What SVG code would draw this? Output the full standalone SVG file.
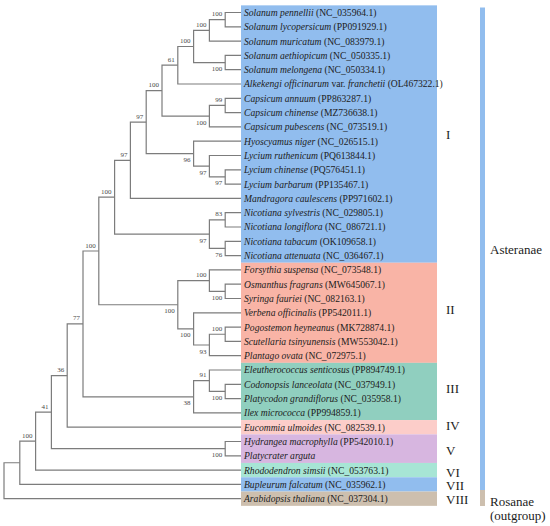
<svg xmlns="http://www.w3.org/2000/svg" width="550" height="526" viewBox="0 0 550 526">
<style>
.bg{fill:#ffffff}
.br{fill:none;stroke:#7c7c7c;stroke-width:1.2}
.sp{font-family:"Liberation Serif","Times New Roman",serif;font-size:9.6px;fill:#1c1c1c}
.it{font-style:italic}
.bs{font-family:"Liberation Serif","Times New Roman",serif;font-size:7px;fill:#4a4a4a;text-anchor:end}
.cl{font-family:"Liberation Serif","Times New Roman",serif;font-size:13px;fill:#1c1c1c}
.c1{fill:#91bdee}.c2{fill:#f9b4a6}.c3{fill:#90cfbf}.c4{fill:#fccdc9}.c5{fill:#d7b6e0}.c6{fill:#a7e5d5}.c7{fill:#91bdee}.c8{fill:#cdbfae}
</style>
<rect class="bg" x="0" y="0" width="550" height="526"/>
<g id="clade-bands">
<rect class="c1" x="241" y="5.35" width="196" height="257.4"/>
<rect class="c2" x="241" y="262.75" width="196" height="100.1"/>
<rect class="c3" x="241" y="362.85" width="196" height="57.2"/>
<rect class="c4" x="241" y="420.05" width="196" height="14.3"/>
<rect class="c5" x="241" y="434.35" width="196" height="28.6"/>
<rect class="c6" x="241" y="462.95" width="196" height="14.3"/>
<rect class="c7" x="241" y="477.25" width="196" height="14.3"/>
<rect class="c8" x="241" y="491.55" width="196" height="14.3"/>
</g>
<g id="connectors">
<path class="br" d="M19.8,462.75H4V498.7H241"/>
<path class="br" d="M35.6,441.1H19.8V484.4H241"/>
<path class="br" d="M51.4,412.1H35.6V470.1H241"/>
<path class="br" d="M67.2,375.55H51.4V448.65H225.2"/>
<path class="br" d="M83,323.9H67.2V427.2H241"/>
<path class="br" d="M98.8,251H83V396.8H193.6"/>
<path class="br" d="M114.6,197.2H98.8V304.75H177.8"/>
<path class="br" d="M130.4,160.3H114.6V234.15H209.4"/>
<path class="br" d="M146.2,122.2H130.4V198.4H241"/>
<path class="br" d="M162,90.7H146.2V153.7H193.6"/>
<path class="br" d="M177.8,65.2H162V116.2H209.4"/>
<path class="br" d="M193.6,46.5H177.8V84H241"/>
<path class="br" d="M209.4,30.4H193.6V62.55H225.2"/>
<path class="br" d="M225.2,19.65H209.4V41.1H241"/>
<path class="br" d="M241,12.5H225.2V26.8H241"/>
<path class="br" d="M241,55.4H225.2V69.7H241"/>
<path class="br" d="M225.2,105.45H209.4V126.9H241"/>
<path class="br" d="M241,98.3H225.2V112.6H241"/>
<path class="br" d="M241,141.2H193.6V166.2H209.4"/>
<path class="br" d="M241,155.5H209.4V176.95H225.2"/>
<path class="br" d="M241,169.8H225.2V184.1H241"/>
<path class="br" d="M225.2,219.85H209.4V248.45H225.2"/>
<path class="br" d="M241,212.7H225.2V227H241"/>
<path class="br" d="M241,241.3H225.2V255.6H241"/>
<path class="br" d="M209.4,280.6H177.8V328.9H193.6"/>
<path class="br" d="M241,269.9H209.4V291.35H225.2"/>
<path class="br" d="M241,284.2H225.2V298.5H241"/>
<path class="br" d="M241,312.8H193.6V344.98H209.4"/>
<path class="br" d="M225.2,334.25H209.4V355.7H241"/>
<path class="br" d="M241,327.1H225.2V341.4H241"/>
<path class="br" d="M209.4,380.7H193.6V412.9H241"/>
<path class="br" d="M241,370H209.4V391.45H225.2"/>
<path class="br" d="M241,384.3H225.2V398.6H241"/>
<path class="br" d="M241,441.5H225.2V455.8H241"/>
</g>
<g id="support-values">
<text class="bs" x="222.2" y="16.2">100</text>
<text class="bs" x="206.4" y="26.9">100</text>
<text class="bs" x="190.6" y="43">100</text>
<text class="bs" x="222.2" y="71.05">100</text>
<text class="bs" x="174.8" y="61.7">61</text>
<text class="bs" x="159" y="87.2">100</text>
<text class="bs" x="222.2" y="101.95">99</text>
<text class="bs" x="206.4" y="124.7">100</text>
<text class="bs" x="143.2" y="118.7">97</text>
<text class="bs" x="190.6" y="162.2">96</text>
<text class="bs" x="206.4" y="174.7">97</text>
<text class="bs" x="222.2" y="185.45">97</text>
<text class="bs" x="127.4" y="156.8">97</text>
<text class="bs" x="111.6" y="193.7">100</text>
<text class="bs" x="222.2" y="216.35">83</text>
<text class="bs" x="222.2" y="256.95">76</text>
<text class="bs" x="206.4" y="242.65">97</text>
<text class="bs" x="95.8" y="247.5">100</text>
<text class="bs" x="206.4" y="277.1">100</text>
<text class="bs" x="222.2" y="299.85">100</text>
<text class="bs" x="174.8" y="313.25">100</text>
<text class="bs" x="190.6" y="337.4">100</text>
<text class="bs" x="206.4" y="353.5">93</text>
<text class="bs" x="222.2" y="330.75">100</text>
<text class="bs" x="80" y="320.4">77</text>
<text class="bs" x="206.4" y="377.2">91</text>
<text class="bs" x="222.2" y="399.95">100</text>
<text class="bs" x="190.6" y="405.3">38</text>
<text class="bs" x="64.2" y="372.05">36</text>
<text class="bs" x="48.4" y="408.6">41</text>
<text class="bs" x="222.2" y="457.15">100</text>
<text class="bs" x="32.6" y="437.6">100</text>
</g>
<g id="leaf-01"><text class="sp" x="244" y="15.9"><tspan class="it">Solanum pennellii</tspan> (NC_035964.1)</text></g>
<g id="leaf-02"><text class="sp" x="244" y="30.2"><tspan class="it">Solanum lycopersicum</tspan> (PP091929.1)</text></g>
<g id="leaf-03"><text class="sp" x="244" y="44.5"><tspan class="it">Solanum muricatum</tspan> (NC_083979.1)</text></g>
<g id="leaf-04"><text class="sp" x="244" y="58.8"><tspan class="it">Solanum aethiopicum</tspan> (NC_050335.1)</text></g>
<g id="leaf-05"><text class="sp" x="244" y="73.1"><tspan class="it">Solanum melongena</tspan> (NC_050334.1)</text></g>
<g id="leaf-06"><text class="sp" x="244" y="87.4"><tspan class="it">Alkekengi officinarum</tspan> var. <tspan class="it">franchetii</tspan> (OL467322.1)</text></g>
<g id="leaf-07"><text class="sp" x="244" y="101.7"><tspan class="it">Capsicum annuum</tspan> (PP863287.1)</text></g>
<g id="leaf-08"><text class="sp" x="244" y="116"><tspan class="it">Capsicum chinense</tspan> (MZ736638.1)</text></g>
<g id="leaf-09"><text class="sp" x="244" y="130.3"><tspan class="it">Capsicum pubescens</tspan> (NC_073519.1)</text></g>
<g id="leaf-10"><text class="sp" x="244" y="144.6"><tspan class="it">Hyoscyamus niger</tspan> (NC_026515.1)</text></g>
<g id="leaf-11"><text class="sp" x="244" y="158.9"><tspan class="it">Lycium ruthenicum</tspan> (PQ613844.1)</text></g>
<g id="leaf-12"><text class="sp" x="244" y="173.2"><tspan class="it">Lycium chinense</tspan> (PQ576451.1)</text></g>
<g id="leaf-13"><text class="sp" x="244" y="187.5"><tspan class="it">Lycium barbarum</tspan> (PP135467.1)</text></g>
<g id="leaf-14"><text class="sp" x="244" y="201.8"><tspan class="it">Mandragora caulescens</tspan> (PP971602.1)</text></g>
<g id="leaf-15"><text class="sp" x="244" y="216.1"><tspan class="it">Nicotiana sylvestris</tspan> (NC_029805.1)</text></g>
<g id="leaf-16"><text class="sp" x="244" y="230.4"><tspan class="it">Nicotiana longiflora</tspan> (NC_086721.1)</text></g>
<g id="leaf-17"><text class="sp" x="244" y="244.7"><tspan class="it">Nicotiana tabacum</tspan> (OK109658.1)</text></g>
<g id="leaf-18"><text class="sp" x="244" y="259"><tspan class="it">Nicotiana attenuata</tspan> (NC_036467.1)</text></g>
<g id="leaf-19"><text class="sp" x="244" y="273.3"><tspan class="it">Forsythia suspensa</tspan> (NC_073548.1)</text></g>
<g id="leaf-20"><text class="sp" x="244" y="287.6"><tspan class="it">Osmanthus fragrans</tspan> (MW645067.1)</text></g>
<g id="leaf-21"><text class="sp" x="244" y="301.9"><tspan class="it">Syringa fauriei</tspan> (NC_082163.1)</text></g>
<g id="leaf-22"><text class="sp" x="244" y="316.2"><tspan class="it">Verbena officinalis</tspan> (PP542011.1)</text></g>
<g id="leaf-23"><text class="sp" x="244" y="330.5"><tspan class="it">Pogostemon heyneanus</tspan> (MK728874.1)</text></g>
<g id="leaf-24"><text class="sp" x="244" y="344.8"><tspan class="it">Scutellaria tsinyunensis</tspan> (MW553042.1)</text></g>
<g id="leaf-25"><text class="sp" x="244" y="359.1"><tspan class="it">Plantago ovata</tspan> (NC_072975.1)</text></g>
<g id="leaf-26"><text class="sp" x="244" y="373.4"><tspan class="it">Eleutherococcus senticosus</tspan> (PP894749.1)</text></g>
<g id="leaf-27"><text class="sp" x="244" y="387.7"><tspan class="it">Codonopsis lanceolata</tspan> (NC_037949.1)</text></g>
<g id="leaf-28"><text class="sp" x="244" y="402"><tspan class="it">Platycodon grandiflorus</tspan> (NC_035958.1)</text></g>
<g id="leaf-29"><text class="sp" x="244" y="416.3"><tspan class="it">Ilex micrococca</tspan> (PP994859.1)</text></g>
<g id="leaf-30"><text class="sp" x="244" y="430.6"><tspan class="it">Eucommia ulmoides</tspan> (NC_082539.1)</text></g>
<g id="leaf-31"><text class="sp" x="244" y="444.9"><tspan class="it">Hydrangea macrophylla</tspan> (PP542010.1)</text></g>
<g id="leaf-32"><text class="sp" x="244" y="459.2"><tspan class="it">Platycrater arguta</tspan></text></g>
<g id="leaf-33"><text class="sp" x="244" y="473.5"><tspan class="it">Rhododendron simsii</tspan> (NC_053763.1)</text></g>
<g id="leaf-34"><text class="sp" x="244" y="487.8"><tspan class="it">Bupleurum falcatum</tspan> (NC_035962.1)</text></g>
<g id="leaf-35"><text class="sp" x="244" y="502.1"><tspan class="it">Arabidopsis thaliana</tspan> (NC_037304.1)</text></g>
<g id="clade-labels">
<text class="cl" x="446" y="139">I</text>
<text class="cl" x="446" y="314">II</text>
<text class="cl" x="446" y="393">III</text>
<text class="cl" x="446" y="430">IV</text>
<text class="cl" x="446" y="455">V</text>
<text class="cl" x="446" y="476.5">VI</text>
<text class="cl" x="446" y="490">VII</text>
<text class="cl" x="446" y="504">VIII</text>
</g>
<g id="group-asteranae">
<rect class="c1" x="480" y="7.5" width="5" height="482.5"/>
<text class="cl" x="490" y="254">Asteranae</text>
</g>
<g id="group-rosanae">
<rect class="c8" x="480" y="490" width="5" height="16"/>
<text class="cl" x="490" y="506">Rosanae</text>
<text class="cl" x="490" y="520">(outgroup)</text>
</g>
</svg>
